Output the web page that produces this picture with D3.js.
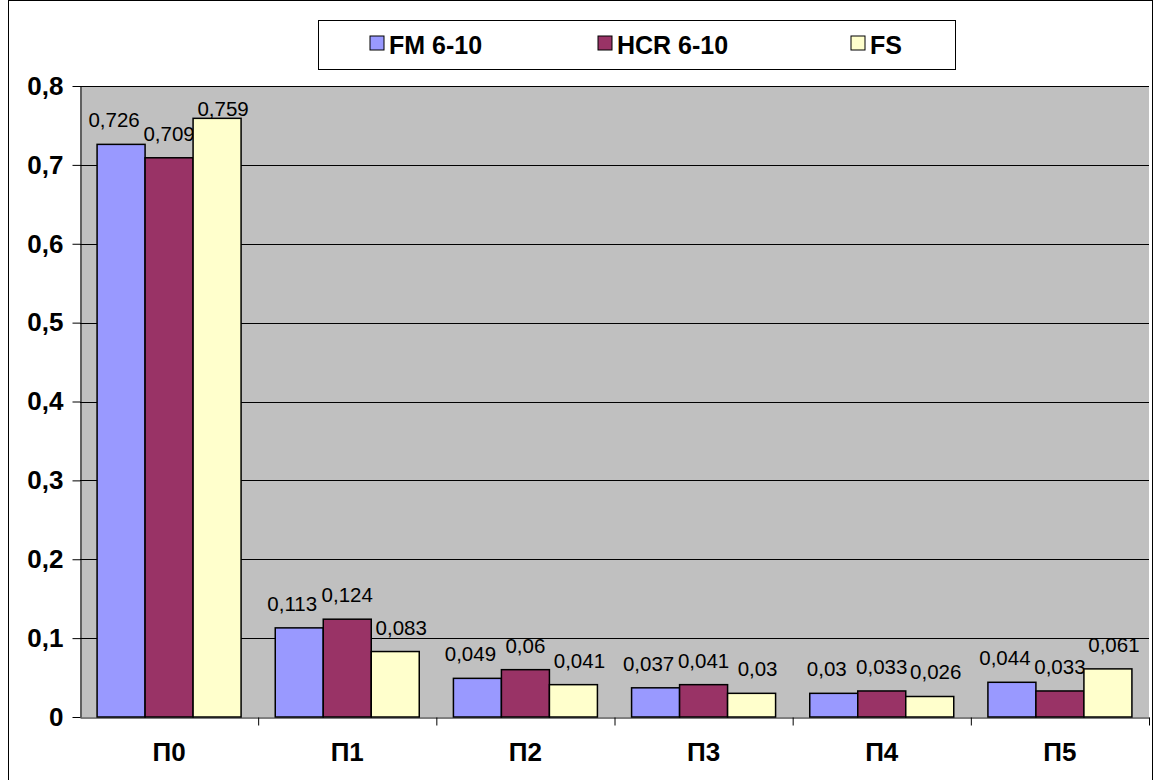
<!DOCTYPE html>
<html><head><meta charset="utf-8">
<script src="https://cdn.jsdelivr.net/npm/d3@7"></script>
<style>body{margin:0;background:#fff}text{font-family:Arial,"Liberation Sans",sans-serif}</style>
</head><body><div id="view"></div>
<script>
var categories = ["П0", "П1", "П2", "П3", "П4", "П5"];
var seriesNames = ["FM 6-10", "HCR 6-10", "FS"];
var fm = [0.726, 0.113, 0.049, 0.037, 0.03, 0.044];
var hcr = [0.709, 0.124, 0.06, 0.041, 0.033, 0.033];
var fs = [0.759, 0.083, 0.041, 0.03, 0.026, 0.061];
var colors = ["#9999ff", "#993366", "#ffffcc"];
var yTicks = [0, 0.1, 0.2, 0.3, 0.4, 0.5, 0.6, 0.7, 0.8];

var series = [fm, hcr, fs];
var W = 1154, H = 780;
var pLeft = 80, pRight = 1149, pTop = 86, pBottom = 717;

var svg = d3.select("#view").append("svg").attr("width", W).attr("height", H);
svg.append("rect").attr("x", 8.5).attr("y", 0.5).attr("width", 1144).attr("height", 800)
    .attr("fill", "#fff").attr("stroke", "#000");

var x = d3.scaleBand().domain(categories).range([pLeft, pRight]);
var y = d3.scaleLinear().domain([0, 0.8]).range([pBottom, pTop]);
var fmt = function(v) { return String(v).replace(".", ","); };

svg.append("rect").attr("x", pLeft).attr("y", pTop).attr("width", pRight - pLeft).attr("height", pBottom - pTop)
    .attr("fill", "#c0c0c0");

svg.append("g").selectAll("line").data(yTicks.slice(1)).enter().append("line")
    .attr("x1", pLeft).attr("x2", pRight)
    .attr("y1", function(d) { return Math.round(y(d)) + 0.5; })
    .attr("y2", function(d) { return Math.round(y(d)) + 0.5; })
    .attr("stroke", "#000");

var yAxis = svg.append("g").attr("transform", "translate(" + (pLeft + 0.5) + ",0)")
    .call(d3.axisLeft(y).tickValues(yTicks).tickSize(8).tickSizeOuter(0).tickFormat(fmt));
yAxis.selectAll("text").attr("font-size", 26).attr("font-weight", "bold").attr("fill", "#000").attr("dx", -6);
yAxis.selectAll("line,path").attr("stroke", "#000");

var xAxis = svg.append("g").attr("transform", "translate(0," + (pBottom + 0.5) + ")")
    .call(d3.axisBottom(x).tickSize(0).tickSizeOuter(0));
xAxis.selectAll("text").attr("font-size", 26).attr("font-weight", "bold").attr("fill", "#000").attr("dy", 40);
xAxis.select(".domain").attr("stroke", "#000");
xAxis.selectAll(".sep").data(categories).enter().append("line")
    .attr("x1", function(d) { return x(d) + x.bandwidth() + 0.5; })
    .attr("x2", function(d) { return x(d) + x.bandwidth() + 0.5; })
    .attr("y1", 0).attr("y2", 8).attr("stroke", "#000");

var bw = 48;
var labelShift = [-7, 0, 6];
var inner = d3.scaleBand().domain([0, 1, 2]).range([0, bw * 3]);
series.forEach(function(vals, si) {
    var g = svg.append("g");
    g.selectAll("rect").data(vals).enter().append("rect")
        .attr("x", function(d, i) { return x(categories[i]) + x.bandwidth() / 2 - bw * 1.5 + inner(si); })
        .attr("y", function(d) { return y(d); })
        .attr("width", bw)
        .attr("height", function(d) { return pBottom - y(d); })
        .attr("fill", colors[si]).attr("stroke", "#000").attr("stroke-width", 1.5);
    g.selectAll("text").data(vals).enter().append("text")
        .attr("x", function(d, i) { return x(categories[i]) + x.bandwidth() / 2 - bw * 1.5 + inner(si) + bw / 2 + labelShift[si]; })
        .attr("y", function(d) { return Math.max(y(d) - 17, 116); })
        .attr("text-anchor", "middle").attr("font-size", 20.5).attr("fill", "#000")
        .text(fmt);
});

var leg = svg.append("g");
leg.append("rect").attr("x", 318.5).attr("y", 20.5).attr("width", 637).attr("height", 49)
    .attr("fill", "#fff").attr("stroke", "#000");
var legX = [370, 598, 851];
seriesNames.forEach(function(n, i) {
    leg.append("rect").attr("x", legX[i]).attr("y", 36).attr("width", 14).attr("height", 14)
        .attr("fill", colors[i]).attr("stroke", "#000");
    leg.append("text").attr("x", legX[i] + 19).attr("y", 54).attr("font-size", 25)
        .attr("font-weight", "bold").text(n);
});
</script></body></html>
